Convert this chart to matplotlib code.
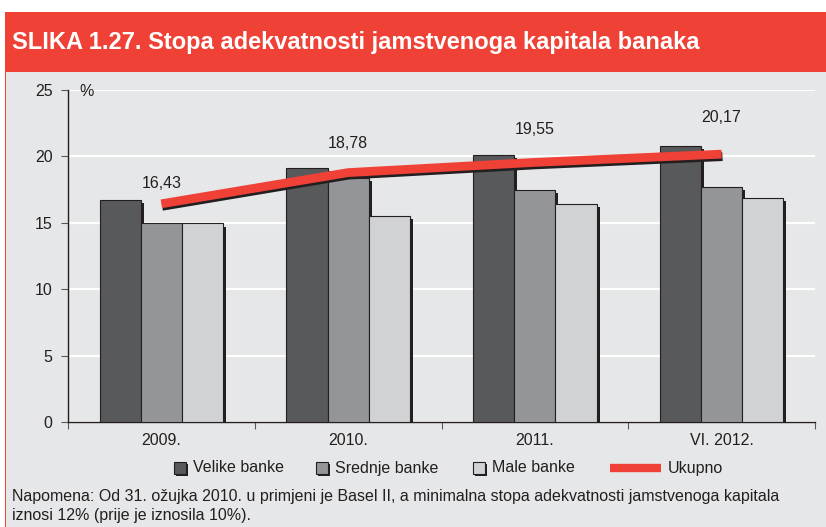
import matplotlib
matplotlib.use("Agg")
import matplotlib.pyplot as plt
import matplotlib.patheffects as pe
from matplotlib.patches import Rectangle
from matplotlib.lines import Line2D
import numpy as np

categories = ["2009.", "2010.", "2011.", "VI. 2012."]
velike = [16.7, 19.1, 20.1, 20.8]
srednje = [15.0, 18.4, 17.45, 17.7]
male = [14.95, 15.5, 16.4, 16.9]
ukupno = [16.43, 18.78, 19.55, 20.17]
ukupno_labels = ["16,43", "18,78", "19,55", "20,17"]
series_names = ["Velike banke", "Srednje banke", "Male banke", "Ukupno"]
yticks = [0, 5, 10, 15, 20, 25]

title = "SLIKA 1.27. Stopa adekvatnosti jamstvenoga kapitala banaka"
note = ("Napomena: Od 31. ožujka 2010. u primjeni je Basel II, a minimalna stopa adekvatnosti jamstvenoga kapitala\n"
        "iznosi 12% (prije je iznosila 10%).")

plt.rcParams['font.family'] = ['Liberation Sans', 'DejaVu Sans']

W, H = 826, 527
fig = plt.figure(figsize=(W / 100, H / 100), dpi=100, facecolor="white")

RED = "#ef4136"
PANEL = "#e6e7e8"
INK = "#231f20"
C_V, C_S, C_M = "#58595b", "#939598", "#d1d2d4"
FS = 11.5

# panel background and header
fig.patches.append(Rectangle((5 / W, 0), 1, (H - 72) / H, transform=fig.transFigure,
                             facecolor=PANEL, edgecolor="none", zorder=-3))
fig.patches.append(Rectangle((5 / W, 0), 1.2 / W, (H - 72) / H, transform=fig.transFigure,
                             facecolor=RED, edgecolor="none", zorder=-2))
fig.patches.append(Rectangle((5 / W, (H - 72) / H), 1, 60 / H, transform=fig.transFigure,
                             facecolor=RED, edgecolor="none", zorder=-2))
fig.text(12 / W, 1 - 43 / H, title, color="white", fontsize=17, fontweight="bold",
         va="center", ha="left")

ax = fig.add_axes([68 / W, (H - 422) / H, (815 - 68) / W, (422 - 90) / H])
ax.set_facecolor(PANEL)

x = np.arange(len(categories))
bw = 0.22
shadow = [pe.SimplePatchShadow(offset=(2.2, -2.2), shadow_rgbFace=INK, alpha=1.0), pe.Normal()]
for off, vals, col in [(-bw, velike, C_V), (0, srednje, C_S), (bw, male, C_M)]:
    bars = ax.bar(x + off, vals, width=bw, color=col, edgecolor=INK, linewidth=0.8, zorder=3)
    for b in bars:
        b.set_path_effects(shadow)

ax.plot(x, ukupno, color=RED, linewidth=6.3, solid_capstyle="butt", zorder=5,
        path_effects=[pe.SimpleLineShadow(offset=(0.6, -1.8), shadow_color=INK, alpha=1.0), pe.Normal()])

offsets = [13, 22, 25, 29]
for xi, v, lab, o in zip(x, ukupno, ukupno_labels, offsets):
    ax.annotate(lab, (xi, v), xytext=(0, o * 0.72), textcoords="offset points",
                ha="center", va="bottom", fontsize=FS, color=INK)

ax.set_ylim(0, 25)
ax.set_xlim(-0.5, len(categories) - 0.5)
ax.set_yticks(yticks)
ax.set_yticklabels([str(t) for t in yticks], fontsize=FS, color=INK)
ax.yaxis.grid(True, color="white", linewidth=1.5, zorder=0)
ax.set_axisbelow(True)
ax.set_xticks(np.arange(len(categories) + 1) - 0.5)
ax.set_xticklabels([])
ax.set_xticks(x, minor=True)
ax.set_xticklabels(categories, minor=True, fontsize=FS, color=INK)
ax.tick_params(axis="x", which="minor", length=0, pad=8)
ax.tick_params(axis="x", which="major", length=5, width=0.8, color="#58595b")
ax.tick_params(axis="y", length=5, width=0.8, color="#58595b", pad=6)
for s in ["top", "right"]:
    ax.spines[s].set_visible(False)
for s in ["left", "bottom"]:
    ax.spines[s].set_color(INK)
    ax.spines[s].set_linewidth(1.0)
fig.text(87 / W, 1 - 92 / H, "%", fontsize=FS, color=INK, ha="center", va="center")

# legend (manual layout)
ly = 1 - 468 / H
sq = 12
leg_x = [174, 316, 473]
for lx, c, name in zip(leg_x, (C_V, C_S, C_M), series_names[:3]):
    r = Rectangle((lx / W, ly - sq / 2 / H), sq / W, sq / H, transform=fig.transFigure,
                  facecolor=c, edgecolor=INK, linewidth=0.8,
                  path_effects=[pe.SimplePatchShadow(offset=(1.3, -1.3), shadow_rgbFace=INK, alpha=1.0), pe.Normal()])
    fig.patches.append(r)
    fig.text((lx + sq + 7) / W, ly, name, fontsize=FS, color=INK, ha="left", va="center")
fig.lines.append(Line2D([610 / W, 661 / W], [ly, ly], transform=fig.transFigure, color=RED,
                       linewidth=6, solid_capstyle="butt"))
fig.text(668 / W, ly, series_names[3], fontsize=FS, color=INK, ha="left", va="center")

fig.text(12 / W, 1 - 506 / H, note, fontsize=FS, color=INK, ha="left", va="center",
         linespacing=1.3)

fig.savefig("out.png", dpi=100, facecolor="white")
